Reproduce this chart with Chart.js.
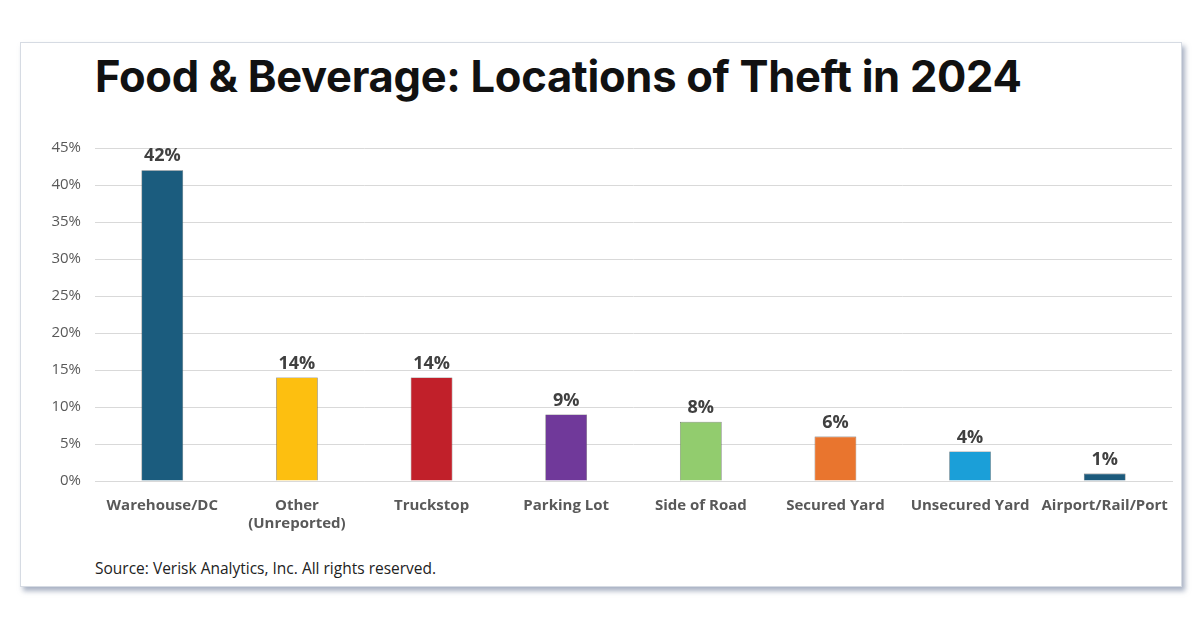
<!DOCTYPE html>
<html><head><meta charset="utf-8">
<script src="https://cdn.jsdelivr.net/npm/chart.js@4"></script>
<style>
body{margin:0;width:1200px;height:628px;background:#fff;position:relative;overflow:hidden;font-family:"Open Sans",sans-serif}
#card{position:absolute;left:20px;top:42px;width:1160px;height:543px;background:#fff;border:1px solid #d6dbe3;box-shadow:3px 4px 5px rgba(110,125,155,0.6)}
#title{position:absolute;left:95px;top:50px;font-family:Inter,sans-serif;font-weight:700;font-size:43.5px;color:#111;letter-spacing:-0.3px}
#src{position:absolute;left:95px;top:557px;font-size:15.5px;color:#222}
#wrap{position:absolute;left:30px;top:125px;width:1150px;height:411px}
</style></head><body>
<div id="card"></div>
<div id="title">Food &amp; Beverage: Locations of Theft in 2024</div>
<div id="wrap"><canvas id="c"></canvas></div>
<div id="src">Source: Verisk Analytics, Inc. All rights reserved.</div>
<script>
const categories=["Warehouse/DC",["Other","(Unreported)"],"Truckstop","Parking Lot","Side of Road","Secured Yard","Unsecured Yard","Airport/Rail/Port"];
const values=[42,14,14,9,8,6,4,1];
const colors=["#1b5c7e","#fdbf10","#c1202a","#70399a","#92cc6e","#e9752e","#1b9fd8","#1c5a7c"];
const labelPlugin={id:"lbl",afterDatasetsDraw(ch){const ctx=ch.ctx;const m=ch.getDatasetMeta(0);ctx.save();ctx.font="bold 18px 'Open Sans'";ctx.fillStyle="#404040";ctx.textAlign="center";ctx.textBaseline="bottom";m.data.forEach((b,i)=>ctx.fillText(values[i]+"%",b.x,b.y-5));ctx.restore();}};
new Chart(document.getElementById("c"),{type:"bar",
data:{labels:categories,datasets:[{data:values,backgroundColor:colors,borderColor:"#555",borderWidth:0.6,categoryPercentage:1,barPercentage:0.31}]},
options:{responsive:true,maintainAspectRatio:false,animation:false,
layout:{padding:{top:17,right:8}},
plugins:{legend:{display:false},tooltip:{enabled:false}},
scales:{
y:{min:0,max:45,afterFit(s){s.width=65;},border:{display:false},grid:{color:"#d9d9d9",drawTicks:false},
ticks:{stepSize:5,padding:14,color:"#595959",font:{size:15,family:"Open Sans"},callback:v=>v+"%"}},
x:{afterFit(s){s.height=55;},grid:{display:false},border:{color:"#d9d9d9"},
ticks:{color:"#595959",padding:8,maxRotation:0,autoSkip:false,font:{size:15,weight:"bold",family:"Open Sans"}}}}},
plugins:[labelPlugin]});
</script></body></html>
